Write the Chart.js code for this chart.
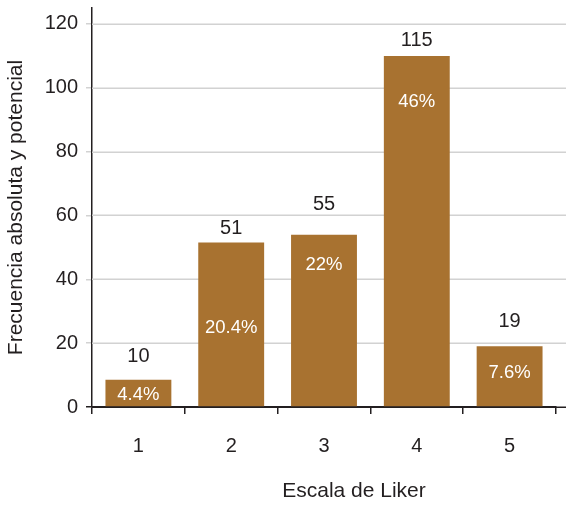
<!DOCTYPE html>
<html>
<head>
<meta charset="utf-8">
<script src="https://cdn.jsdelivr.net/npm/chart.js@4"></script>
<style>
  html, body { margin: 0; padding: 0; background: #fff; }
  #wrap { width: 566px; height: 505px; }
</style>
</head>
<body>
<div id="wrap"><canvas id="chart"></canvas></div>
<script>
// valores
const categories = ["1", "2", "3", "4", "5"];
const barValues = [8.5, 51.5, 54, 110, 19];       // altura dibujada de las barras
const countLabels = ["10", "51", "55", "115", "19"]; // etiquetas sobre las barras
const pctLabels = ["4.4%", "20.4%", "22%", "46%", "7.6%"];
const yTicks = [0, 20, 40, 60, 80, 100, 120];

const FONT = "'Liberation Sans', Arial, Helvetica, sans-serif";
const TEXT = "#231f20";
const BAR = "#a87230";
const GRID = "#d2d2d2";

// desplazamientos (px) de las etiquetas respecto a la parte superior de cada barra
const topOffsets = [23, 14, 30, 15, 25];
const innerOffsets = [15, 85, 30, 46, 27];

const labelsPlugin = {
  id: "barLabels",
  afterDatasetsDraw(chart) {
    const ctx = chart.ctx;
    const meta = chart.getDatasetMeta(0);
    ctx.save();
    ctx.textAlign = "center";
    ctx.textBaseline = "middle";
    meta.data.forEach((bar, i) => {
      ctx.fillStyle = TEXT;
      ctx.font = "20px " + FONT;
      ctx.fillText(countLabels[i], bar.x, bar.y - topOffsets[i]);
      ctx.fillStyle = "#ffffff";
      ctx.font = "18.5px " + FONT;
      ctx.fillText(pctLabels[i], bar.x, bar.y + innerOffsets[i]);
    });
    ctx.restore();
  }
};

// cuadrícula hasta el borde derecho del lienzo y título del eje x
const extrasPlugin = {
  id: "extras",
  beforeDatasetsDraw(chart) {
    const ctx = chart.ctx;
    const y = chart.scales.y;
    const area = chart.chartArea;
    ctx.save();
    ctx.lineWidth = 1.5;
    yTicks.forEach((v) => {
      const py = Math.round(y.getPixelForValue(v)) + 0.25;
      ctx.strokeStyle = v === 0 ? TEXT : GRID;
      ctx.beginPath();
      ctx.moveTo(area.left, py);
      ctx.lineTo(chart.width, py);
      ctx.stroke();
    });
    ctx.restore();
  },
  afterDraw(chart) {
    const ctx = chart.ctx;
    const area = chart.chartArea;
    ctx.save();
    ctx.fillStyle = TEXT;
    ctx.font = "21px " + FONT;
    ctx.textAlign = "center";
    ctx.textBaseline = "middle";
    ctx.fillText("Escala de Liker", (area.left + area.right) / 2 + 30, 491);
    ctx.restore();
  }
};

new Chart(document.getElementById("chart"), {
  type: "bar",
  data: {
    labels: categories,
    datasets: [{
      data: barValues,
      backgroundColor: BAR,
      borderWidth: 0,
      barPercentage: 0.71,
      categoryPercentage: 1
    }]
  },
  options: {
    responsive: true,
    maintainAspectRatio: false,
    animation: false,
    layout: { padding: { top: 8, right: 10, bottom: 0, left: 0 } },
    plugins: {
      legend: { display: false },
      tooltip: { enabled: false }
    },
    scales: {
      x: {
        afterFit(scale) { scale.height = 98; },
        grid: {
          offset: true,
          drawOnChartArea: false,
          drawTicks: true,
          tickLength: 7,
          color: TEXT,
          lineWidth: 1.5
        },
        border: { color: TEXT, width: 1.5 },
        ticks: {
          color: TEXT,
          font: { family: FONT, size: 20 },
          padding: 20
        }
      },
      y: {
        min: 0,
        max: 125,
        afterFit(scale) {
          scale.width = 92;
          scale.paddingTop = 0;
          scale.paddingBottom = 0;
        },
        afterBuildTicks(scale) {
          scale.ticks = yTicks.map((v) => ({ value: v }));
        },
        grid: {
          drawOnChartArea: false,
          lineWidth: 1.5,
          tickLength: 6,
          tickColor: (c) => (c.tick && c.tick.value === 0 ? TEXT : GRID)
        },
        border: { color: TEXT, width: 1.5 },
        ticks: {
          color: TEXT,
          font: { family: FONT, size: 20 },
          padding: 8
        },
        title: {
          display: true,
          text: "Frecuencia absoluta y potencial",
          color: TEXT,
          font: { family: FONT, size: 21 },
          padding: { top: 4, bottom: 0 }
        }
      }
    }
  },
  plugins: [labelsPlugin, extrasPlugin]
});
</script>
</body>
</html>
